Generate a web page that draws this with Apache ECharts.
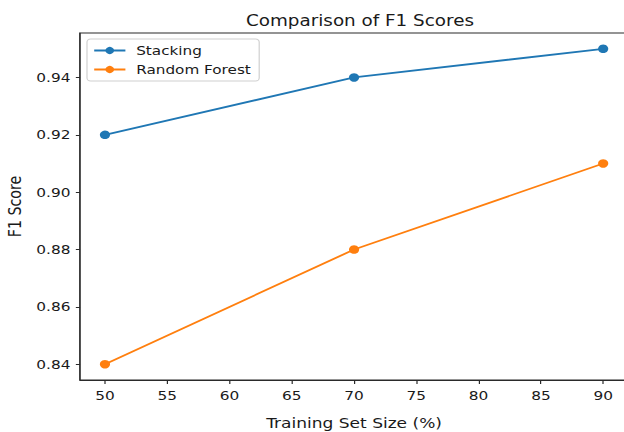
<!DOCTYPE html>
<html>
<head>
<meta charset="utf-8">
<script src="https://cdn.jsdelivr.net/npm/echarts@6/dist/echarts.min.js"></script>
<style>
  html, body { margin: 0; padding: 0; background: #fff; overflow: hidden; }
  #wrap { width: 624px; height: 432px; overflow: hidden; }
  /* the figure is laid out narrow and widened horizontally */
  #chart { width: 520px; height: 432px; transform: scaleX(1.2); transform-origin: 0 0; }
</style>
</head>
<body>
<div id="wrap"><div id="chart"></div></div>
<script>
// Training set sizes (%) and F1 scores per model
const trainingSizes = [50, 70, 90];
const stackingF1 = [0.92, 0.94, 0.95];
const randomForestF1 = [0.84, 0.88, 0.91];
const xTicks = [50, 55, 60, 65, 70, 75, 80, 85, 90];
const yTicks = [0.84, 0.86, 0.88, 0.90, 0.92, 0.94];

const FONT = 'DejaVu Sans';
const INK = '#1a1a1a';
const pairs = (xs, ys) => xs.map((x, i) => [x, ys[i]]);

const chart = echarts.init(document.getElementById('chart'), null, { renderer: 'svg' });

chart.setOption({
  animation: false,
  backgroundColor: '#fff',
  title: {
    text: 'Comparison of F1 Scores',
    left: 295, top: 8, textAlign: 'center',
    textStyle: { fontFamily: FONT, fontSize: 15.3, fontWeight: 'normal', color: INK }
  },
  grid: {
    left: 66.7, top: 33, width: 456.7, height: 347,
    outerBoundsMode: 'none', containLabel: false,
    show: true, borderColor: '#2a2a2a', borderWidth: 1, backgroundColor: 'transparent'
  },
  legend: {
    orient: 'vertical',
    left: 72.5, top: 39,
    padding: [5, 7, 5, 5],
    itemGap: 6,
    itemWidth: 26, itemHeight: 9,
    backgroundColor: '#fff',
    borderColor: '#d0d0d0', borderWidth: 1, borderRadius: 3,
    textStyle: { fontFamily: FONT, fontSize: 12.7, color: INK, padding: [0, 0, 0, 4] },
    data: ['Stacking', 'Random Forest']
  },
  xAxis: {
    type: 'value', min: 48, max: 92,
    name: 'Training Set Size (%)', nameLocation: 'middle', nameGap: 36,
    nameTextStyle: { fontFamily: FONT, fontSize: 14.2, color: INK },
    axisLine: { show: true, lineStyle: { color: '#2a2a2a', width: 1 } },
    axisTick: { show: true, length: 4, lineStyle: { color: '#2a2a2a' }, customValues: xTicks },
    axisLabel: { fontFamily: FONT, fontSize: 12.8, color: INK, margin: 9, customValues: xTicks },
    splitLine: { show: false }
  },
  yAxis: {
    type: 'value', min: 0.8345, max: 0.9555,
    name: 'F1 Score', nameLocation: 'middle', nameGap: 44.5, nameRotate: 90,
    nameTextStyle: { fontFamily: FONT, fontSize: 14.2, color: INK },
    axisLine: { show: true, lineStyle: { color: '#2a2a2a', width: 1 } },
    axisTick: { show: true, length: 3.5, lineStyle: { color: '#2a2a2a' }, customValues: yTicks },
    axisLabel: {
      fontFamily: FONT, fontSize: 12.8, color: INK, margin: 8, customValues: yTicks,
      formatter: v => v.toFixed(2)
    },
    splitLine: { show: false }
  },
  series: [
    {
      name: 'Stacking', type: 'line',
      data: pairs(trainingSizes, stackingF1),
      symbol: 'circle', symbolSize: 8.5,
      itemStyle: { color: '#1f77b4' },
      lineStyle: { color: '#1f77b4', width: 1.8 }
    },
    {
      name: 'Random Forest', type: 'line',
      data: pairs(trainingSizes, randomForestF1),
      symbol: 'circle', symbolSize: 8.5,
      itemStyle: { color: '#ff7f0e' },
      lineStyle: { color: '#ff7f0e', width: 1.8 }
    }
  ]
});
</script>
</body>
</html>
